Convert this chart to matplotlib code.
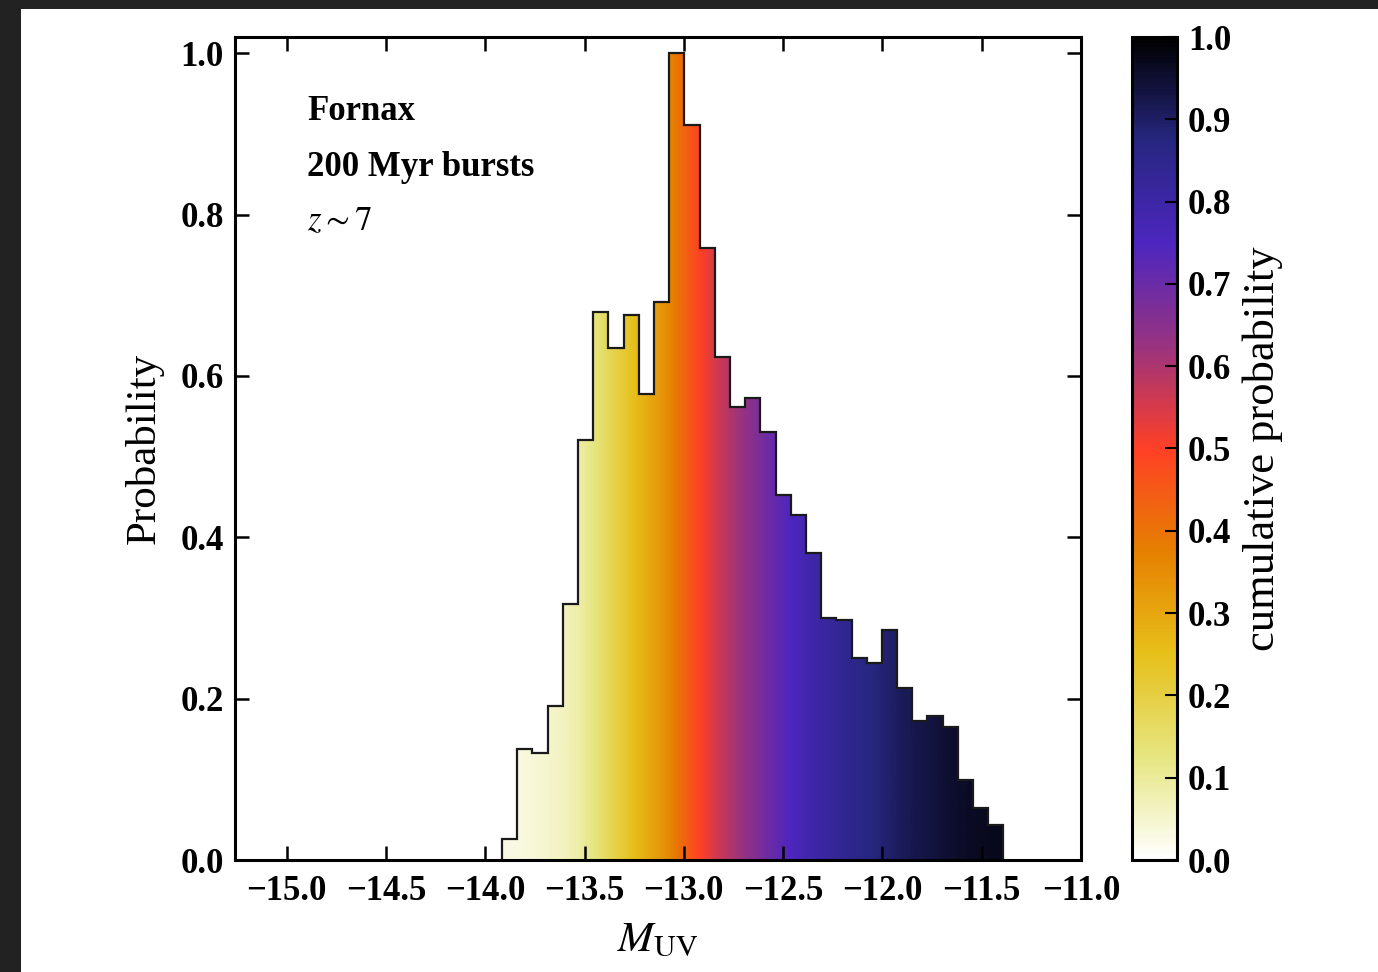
import numpy as np
import matplotlib
matplotlib.use("Agg")
import matplotlib.pyplot as plt
from matplotlib.patches import Rectangle
from matplotlib.cm import ScalarMappable
from matplotlib.colors import Normalize

# Histogram of UV magnitudes (normalised to the peak bin)
bin_start = -13.915
bin_width = 0.0765
prob = [0.026, 0.137, 0.133, 0.191, 0.317, 0.521, 0.679, 0.635, 0.676, 0.577,
        0.691, 1.000, 0.911, 0.758, 0.623, 0.562, 0.573, 0.531, 0.452, 0.427,
        0.380, 0.300, 0.298, 0.250, 0.244, 0.285, 0.213, 0.172, 0.178, 0.165,
        0.099, 0.064, 0.043]

x_ticks = [-15.0, -14.5, -14.0, -13.5, -13.0, -12.5, -12.0, -11.5, -11.0]
y_ticks = [0.0, 0.2, 0.4, 0.6, 0.8, 1.0]
cbar_ticks = [0.0, 0.1, 0.2, 0.3, 0.4, 0.5, 0.6, 0.7, 0.8, 0.9, 1.0]
x_range = (-15.26, -11.0)
y_range = (0.0, 1.02)

plt.rcParams["font.family"] = ["Liberation Serif", "DejaVu Serif"]
plt.rcParams["mathtext.fontset"] = "stix"

W, H = 1378, 972
fig = plt.figure(figsize=(W / 100, H / 100), dpi=100)
fig.patch.set_facecolor("#222222")
fig.add_artist(Rectangle((21 / W, 0), 1 - 21 / W, (H - 9) / H,
                         transform=fig.transFigure, facecolor="white",
                         edgecolor="none", zorder=0))

ax = fig.add_axes([235 / W, 1 - 860 / H, (1081 - 235) / W, (860 - 37) / H])
ax.set_facecolor("white")

prob = np.asarray(prob)
edges = bin_start + bin_width * np.arange(len(prob) + 1)
cdf_edges = np.concatenate([[0.0], np.cumsum(prob)]) / prob.sum()

cmap = plt.get_cmap("CMRmap_r")

# Colour fill follows the cumulative distribution along the magnitude axis
xs = np.linspace(x_range[0], x_range[1], 3000)
cdf = np.interp(xs, edges, cdf_edges)
im = ax.imshow(cdf[np.newaxis, :], extent=[x_range[0], x_range[1], y_range[0], y_range[1]],
               aspect="auto", cmap=cmap, norm=Normalize(-0.03, 1.03), origin="lower",
               interpolation="bilinear", zorder=1)
outline = ax.stairs(prob, edges, baseline=0, fill=True, facecolor="none",
                    edgecolor="#1a1a1a", linewidth=1.6, zorder=2)
im.set_clip_path(outline)

ax.set_xlim(*x_range)
ax.set_ylim(*y_range)

tick_font = dict(fontsize=25, fontweight="bold")
ax.set_xticks(x_ticks, [f"{v:.1f}".replace("-", "\u2212") for v in x_ticks], **tick_font)
ax.set_yticks(y_ticks, [f"{v:.1f}" for v in y_ticks], **tick_font)
ax.tick_params(direction="in", length=10, width=1.8, top=True, right=True, pad=8)
ax.tick_params(axis="x", pad=11)
for s in ax.spines.values():
    s.set_linewidth(2.2)

ax.set_xlabel(r"$M_{\rm UV}$", fontsize=31, labelpad=10)
ax.set_ylabel("Probability", fontsize=31, labelpad=12)

ax.text(0.085, 0.91, "Fornax", transform=ax.transAxes, fontsize=25,
        fontweight="bold", va="center", ha="left")
ax.text(0.085, 0.842, "200 Myr bursts", transform=ax.transAxes, fontsize=25,
        fontweight="bold", va="center", ha="left")
ax.text(0.085, 0.776, r"$z\sim7$", transform=ax.transAxes, fontsize=25,
        va="center", ha="left")

cax = fig.add_axes([1132 / W, 1 - 860 / H, 45 / W, (860 - 37) / H])
sm = ScalarMappable(norm=Normalize(0, 1), cmap=cmap)
cb = fig.colorbar(sm, cax=cax, ticks=cbar_ticks)
cb.ax.set_yticklabels([f"{v:.1f}" for v in cbar_ticks], **tick_font)
cb.ax.tick_params(direction="in", length=9, width=1.5, pad=8)
cb.outline.set_linewidth(2.2)
cb.set_label("cumulative probability", fontsize=32, labelpad=8)

fig.savefig("out.png", dpi=100, facecolor=fig.get_facecolor())
